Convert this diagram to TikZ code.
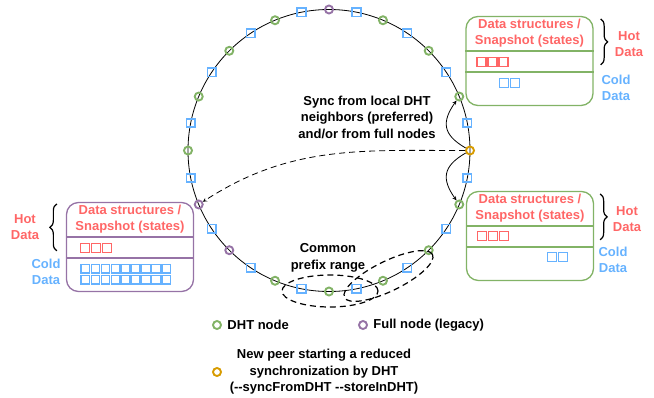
\documentclass[tikz,border=0pt]{standalone}
\usepackage{fontspec}
\setmainfont{Liberation Sans}
\usetikzlibrary{arrows, positioning, calc, decorations.pathreplacing}

\definecolor{dhtgreen}{HTML}{82B366}
\definecolor{fullpurple}{HTML}{9673A6}
\definecolor{peerorange}{HTML}{D79B00}
\definecolor{keyblue}{HTML}{66B2FF}
\definecolor{hotred}{HTML}{FF6666}

\tikzset{
  dht/.style={circle, draw=dhtgreen, line width=1.9pt, inner sep=0pt, minimum size=8pt},
  full/.style={dht, draw=fullpurple},
  newpeer/.style={dht, draw=peerorange},
  keysq/.style={rectangle, draw=keyblue, line width=1.8pt, inner sep=0pt, minimum size=8.5pt},
  store/.style={draw=#1, line width=1.3pt, rounded corners=12pt, minimum width=127pt, minimum height=89pt, inner sep=0pt},
  hotsq/.style={draw=hotred, line width=1.3pt, inner sep=0pt, minimum size=9pt},
  coldsq/.style={hotsq, draw=keyblue},
  hottext/.style={text=hotred, align=center},
  coldtext/.style={text=keyblue, align=center},
  brace/.style={decorate, decoration={brace, amplitude=7pt}, line width=1.2pt},
  dashy/.style={dash pattern=on 6pt off 4pt, line width=1.2pt}
}

\begin{document}
\begin{tikzpicture}[x=1pt, y=-1pt, font=\bfseries\fontsize{13}{16.5}\selectfont]
        \useasboundingbox (0,0) rectangle (654,397);

        % the ring
        \coordinate (ring) at (329,150.5);
        \draw[line width=0.8pt] (ring) circle (141pt);
        \foreach \sty [count=\i from 0] in {full,keysq,dht,keysq,dht,keysq,dht,keysq,
            newpeer,keysq,dht,keysq,dht,keysq,dht,keysq,
            dht,keysq,dht,keysq,full,keysq,full,keysq,
            dht,keysq,dht,keysq,dht,keysq,dht,keysq}
          \node[\sty] (p\i) at ($(ring)+({90-11.25*\i}:141pt)$) {};

        % storage boxes
        \node (top) [store=dhtgreen] at (529.5,61) {};
        \node (bot) [store=dhtgreen] at (530,236) {};
        \node (left) [store=fullpurple] at (130,247) {};

        \foreach \b/\c in {top/dhtgreen, bot/dhtgreen, left/fullpurple} {
          \node[hottext] at ($(\b.north)+(0,17.5)$) {Data structures /\\ Snapshot (states)};
          \draw[draw=\c, line width=1.3pt] ($(\b.north west)+(0,35)$) -- ($(\b.north east)+(0,35)$);
          \draw[draw=\c, line width=1.3pt] ($(\b.north west)+(0,56)$) -- ($(\b.north east)+(0,56)$);
        }
        \foreach \k in {0,1,2} {
          \node[hotsq] at ($(top.north west)+(16+11*\k,46)$) {};
          \node[hotsq] at ($(bot.north west)+(16+11*\k,45)$) {};
          \node[hotsq] at ($(left.north west)+(19+11*\k,46)$) {};
        }
        \foreach \k in {0,1} {
          \node[coldsq] at ($(top.north west)+(38.5+11*\k,67)$) {};
          \node[coldsq] at ($(bot.north west)+(86+11*\k,66)$) {};
        }
        \foreach \k in {0,...,8} {
          \node[coldsq, minimum size=8.5pt] at ($(left.north west)+(19.5+10.1*\k,67)$) {};
          \node[coldsq, minimum size=8.5pt] at ($(left.north west)+(19.5+10.1*\k,78)$) {};
        }

        % hot / cold labels
        \draw[brace] ($(top.north east)+(7,3)$) -- ($(top.north east)+(7,49)$);
        \draw[brace] ($(bot.north east)+(6,3)$) -- ($(bot.north east)+(6,49)$);
        \draw[brace] ($(left.north west)+(-9,49)$) -- ($(left.north west)+(-9,2)$);
        \node[hottext] at (629,44) {Hot\\Data};
        \node[hottext] at (627,219) {Hot\\Data};
        \node[hottext] at (25,227) {Hot\\Data};
        \node[coldtext] at (616,88) {Cold\\Data};
        \node[coldtext] at (613,260) {Cold\\Data};
        \node[coldtext] at (46,272) {Cold\\Data};

        % synchronisation
        \node (sync) [align=center] at (367,117) {Sync from local DHT\\neighbors (preferred)\\and/or from full nodes};
        \draw[-stealth, line width=0.8pt] (p8) to[out=150, in=235, looseness=1.4] (p6);
        \draw[-stealth, line width=0.8pt] (p8) to[out=210, in=125, looseness=1.4] (p10);
        \draw[-stealth, dashy, line width=0.8pt] (p8) to[out=180, in=33] (p22);

        % prefix ranges
        \draw[dashy] (330,291) ellipse [x radius=48pt, y radius=16pt];
        \draw[dashy, rotate around={26:(388.5,276)}] (388.5,276) ellipse [x radius=49pt, y radius=15pt];
        \node (prefix) [align=center] at (328,258) {Common\\prefix range};

        % legend
        \node (lg1) [dht] at (217,325) {};
        \node (lt1) [right=2pt of lg1] {DHT node};
        \node (lg2) [full] at (363,325) {};
        \node (lt2) [right=2pt of lg2] {Full node (legacy)};
        \node (lg3) [newpeer] at (217,372) {};
        \node (lt3) [align=center] at (324,372) {New peer starting a reduced\\synchronization by DHT\\(-{}-syncFromDHT -{}-storeInDHT)};
      \end{tikzpicture}
\end{document}
